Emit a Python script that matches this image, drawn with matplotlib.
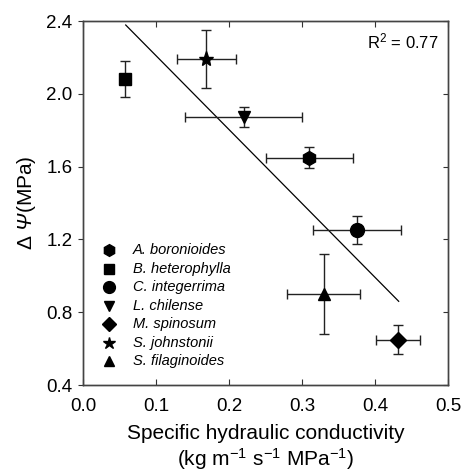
import matplotlib.pyplot as plt
import numpy as np

plt.rcParams['font.family'] = ['Liberation Sans', 'DejaVu Sans']
plt.rcParams['mathtext.fontset'] = 'custom'
plt.rcParams['mathtext.rm'] = 'Liberation Sans'
plt.rcParams['mathtext.it'] = 'Liberation Sans:italic'
# greek capitals are forced upright in \mathit, so borrow \mathsf for italic Psi
plt.rcParams['mathtext.sf'] = 'Liberation Sans:italic'

# species data
species = ['A. boronioides', 'B. heterophylla', 'C. integerrima', 'L. chilense',
           'M. spinosum', 'S. johnstonii', 'S. filaginoides']
markers = ['h', 's', 'o', 'v', 'D', '*', '^']
msizes = [10, 8, 10, 9, 8, 11, 9]
ksh = [0.310, 0.058, 0.375, 0.220, 0.432, 0.169, 0.330]
ksh_err = [0.060, 0.005, 0.060, 0.080, 0.030, 0.040, 0.050]
dpsi = [1.65, 2.08, 1.25, 1.87, 0.65, 2.19, 0.90]
dpsi_err = [0.06, 0.10, 0.077, 0.055, 0.08, 0.16, 0.22]

# regression line end points
fit_x = [0.0585, 0.4324]
fit_y = [2.378, 0.860]
r2 = 0.77

fig = plt.figure(figsize=(4.65, 4.73), dpi=100)
ax = fig.add_axes([0.1785, 0.186, 0.785, 0.7696])

ax.plot(fit_x, fit_y, color='black', lw=0.9, zorder=1)

for i in range(len(species)):
    ax.errorbar(ksh[i], dpsi[i], xerr=ksh_err[i], yerr=dpsi_err[i],
                fmt='none', ecolor='#222222', elinewidth=1.0, capsize=3.5,
                capthick=1.0, zorder=2)
    ax.plot(ksh[i], dpsi[i], marker=markers[i], color='black', ms=msizes[i],
            ls='none', zorder=3)

# legend drawn by hand: marker + italic label
leg_y = np.linspace(1.14, 0.53, 7)
for i in range(len(species)):
    ax.plot(0.0356, leg_y[i], marker=markers[i], color='black',
            ms=msizes[i] * 0.85, ls='none')
    ax.text(0.0685, leg_y[i], species[i], fontsize=10.5, style='italic',
            va='center', ha='left')

ax.text(0.487, 2.285, f'R$^2$ = {r2}', fontsize=12, ha='right', va='center')

ax.set_xlim(0, 0.5)
ax.set_ylim(0.4, 2.4)
xt = np.arange(0, 0.51, 0.1)
yt = np.arange(0.4, 2.41, 0.4)
ax.set_xticks(xt)
ax.set_yticks(yt)
ax.set_xticklabels([f'{v:.1f}' for v in xt])
ax.set_yticklabels([f'{v:.1f}' for v in yt])
ax.tick_params(axis='x', direction='in', length=4, labelsize=13.5, pad=9,
               top=True, color='#333333')
ax.tick_params(axis='y', direction='out', length=3.5, labelsize=13.5, pad=4,
               color='#333333')

# right side ticks point inward -> separate twin axis
ax2 = ax.twinx()
ax2.set_ylim(ax.get_ylim())
ax2.set_yticks(yt)
ax2.tick_params(axis='y', direction='in', length=3.5, labelright=False,
                color='#333333')

for a in (ax, ax2):
    for sp in a.spines.values():
        sp.set_color('#444444')
        sp.set_linewidth(1.0)

ax.set_xlabel('Specific hydraulic conductivity\n(kg m$^{-1}$ s$^{-1}$ MPa$^{-1}$)',
              fontsize=15, labelpad=7, linespacing=1.15)
ax.set_ylabel(r'$\Delta$ $\mathsf{Ψ}$(MPa)', fontsize=15, labelpad=6)

fig.savefig('out.png', dpi=100)
